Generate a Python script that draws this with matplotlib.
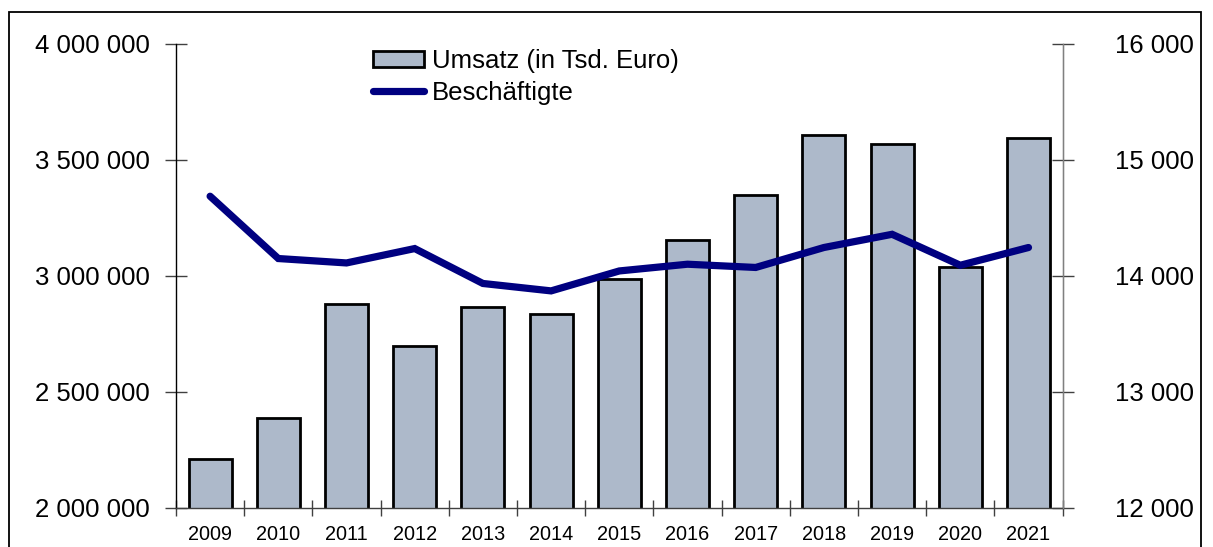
import numpy as np
import matplotlib
matplotlib.use("Agg")
import matplotlib.pyplot as plt
from matplotlib.ticker import FuncFormatter, FixedLocator
from matplotlib.patches import Rectangle

plt.rcParams['font.family'] = ['Liberation Sans', 'DejaVu Sans']

# Daten
jahre = ["2009", "2010", "2011", "2012", "2013", "2014", "2015",
         "2016", "2017", "2018", "2019", "2020", "2021"]
umsatz = [2208000, 2385000, 2879000, 2696000, 2866000, 2837000, 2984000,
          3156000, 3348000, 3606000, 3569000, 3037000, 3593000]
beschaeftigte = [14685, 14148, 14110, 14234, 13933, 13869, 14041,
                 14099, 14071, 14243, 14357, 14090, 14243]

def tausender(v, pos):
    return f"{int(round(v)):,}".replace(",", " ")

fig = plt.figure(figsize=(12.13, 5.47), dpi=100)
ax1 = fig.add_axes([176 / 1213, 1 - 507.7 / 547, 886.6 / 1213, 464 / 547])

x = np.arange(len(jahre))
bars = ax1.bar(x, umsatz, width=0.63, color="#adb9ca", edgecolor="black",
               linewidth=2, label="Umsatz (in Tsd. Euro)", zorder=2)
ax1.set_xlim(-0.5, len(jahre) - 0.5)
ax1.set_ylim(2000000, 4000000)
ax1.set_yticks(np.arange(2000000, 4000001, 500000))
ax1.yaxis.set_major_formatter(FuncFormatter(tausender))

ax2 = ax1.twinx()
line, = ax2.plot(x, beschaeftigte, color="#000080", linewidth=5.2,
                 solid_capstyle="round", solid_joinstyle="miter",
                 label="Beschäftigte", zorder=3)
ax2.set_ylim(12000, 16000)
ax2.set_yticks(np.arange(12000, 16001, 1000))
ax2.yaxis.set_major_formatter(FuncFormatter(tausender))

# x-Achse: Beschriftung in der Mitte, Striche an den Grenzen
ax1.set_xticks(x)
ax1.set_xticklabels(jahre, fontsize=14.3)
ax1.xaxis.set_minor_locator(FixedLocator(np.arange(-0.5, len(jahre), 1.0)))
ax1.tick_params(axis="x", which="major", length=0, pad=12.5)
ax1.tick_params(axis="x", which="minor", direction="inout", length=12,
                color="#404040", width=1)
ax1.tick_params(axis="y", direction="inout", length=16, color="#404040",
                width=1, labelsize=18.5, pad=11)
ax2.tick_params(axis="y", direction="inout", length=16, color="#404040",
                width=1, labelsize=18.5, pad=30)

for ax in (ax1, ax2):
    ax.spines["top"].set_visible(False)
ax1.spines["left"].set_color("black")
ax1.spines["left"].set_linewidth(1)
ax1.spines["bottom"].set_color("#404040")
ax1.spines["bottom"].set_linewidth(1)
ax2.spines["right"].set_color("#808080")
ax2.spines["right"].set_linewidth(1)
ax2.spines["left"].set_visible(False)
ax2.spines["bottom"].set_visible(False)

leg = fig.legend([bars, line], ["Umsatz (in Tsd. Euro)", "Beschäftigte"],
                 loc="upper left", bbox_to_anchor=(373 / 1213, 1 - 49 / 547),
                 bbox_transform=fig.transFigure, frameon=False, fontsize=18.5,
                 borderpad=0, borderaxespad=0, handlelength=2.0,
                 handleheight=0.55, handletextpad=0.3, labelspacing=0.3)

# Rahmen um die Grafik
fig.patches.append(Rectangle((8.5 / 1213, -0.1), (1201 - 8.5) / 1213,
                             1.1 - 12 / 547, transform=fig.transFigure,
                             fill=False, edgecolor="black", linewidth=1.3))

fig.savefig("out.png", dpi=100)
